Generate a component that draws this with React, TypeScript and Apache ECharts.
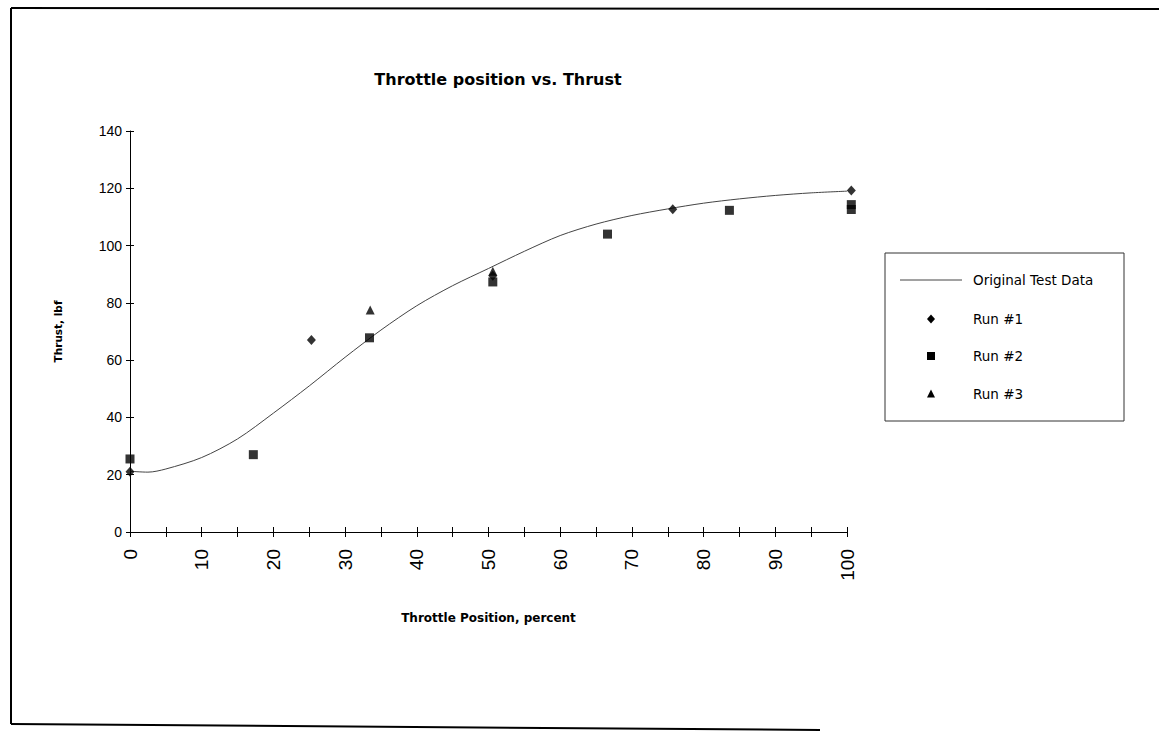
import React, { useEffect, useRef } from "react";
import * as echarts from "echarts";

const chartTitle = "Throttle position vs. Thrust";
const xName = "Throttle Position, percent";
const yName = "Thrust, lbf";

const curveX = [0, 2.5, 5, 10, 15, 20, 25, 30, 35, 40, 45, 50, 55, 60, 65, 70, 75, 80, 85, 90, 95, 100];
const curveY = [21.2, 20.9, 22, 26, 32.5, 41.5, 51, 61, 70.5, 79, 86, 92, 98, 103.5, 107.5, 110.5, 112.8, 114.8, 116.3, 117.5, 118.4, 119];

const run1X = [0, 25.3, 50.6, 75.7, 100.6];
const run1Y = [21, 67, 89.5, 112.7, 119.2];

const run2X = [0, 17.2, 33.4, 50.6, 66.6, 83.6, 100.6, 100.6];
const run2Y = [25.5, 27, 67.8, 87.3, 104, 112.3, 114.3, 112.6];

const run3X = [33.5, 50.6];
const run3Y = [77.5, 91];

const seriesNames = ["Original Test Data", "Run #1", "Run #2", "Run #3"];

const FONT = "'Liberation Sans', Arial, sans-serif";
const WIDE = "'DejaVu Sans', Verdana, sans-serif";

function pairs(xs: number[], ys: number[]) {
  return xs.map((x, i) => [x, ys[i]]);
}

export default function App() {
  const ref = useRef<HTMLDivElement>(null);
  useEffect(() => {
    if (!ref.current) return;
    const chart = echarts.init(ref.current, null, { renderer: "svg" });
    const grid = { left: 130, right: 312, top: 131, bottom: 199 };
    const legendTextStyle = { fill: "#000", font: `13.5px ${WIDE}`, verticalAlign: "middle" as const, align: "left" as const };
    const legendRows = [280, 319, 356, 394];
    const mx = 931;
    const option: any = {
      animation: false,
      backgroundColor: "#ffffff",
      title: {
        text: chartTitle,
        left: 493,
        top: 66,
        textAlign: "center",
        textStyle: { fontFamily: WIDE, fontSize: 16, fontWeight: "bold", color: "#000" },
      },
      grid,
      xAxis: [
        {
          type: "value",
          min: 0,
          max: 100,
          interval: 5,
          name: xName,
          nameLocation: "middle",
          nameGap: 80,
          nameTextStyle: { fontFamily: WIDE, fontSize: 12, fontWeight: "bold", color: "#000" },
          axisLine: { show: true, lineStyle: { color: "#000", width: 1 } },
          axisTick: { show: true, length: 5, lineStyle: { color: "#000" } },
          axisLabel: {
            rotate: 90,
            margin: 17,
            fontFamily: FONT,
            fontSize: 19,
            color: "#000",
            formatter: (v: number) => (v % 10 === 0 ? String(v) : ""),
          },
          splitLine: { show: false },
        },
        {
          type: "value",
          min: 0,
          max: 100,
          interval: 5,
          position: "bottom",
          axisLine: { show: false },
          axisTick: { show: true, inside: true, length: 5, lineStyle: { color: "#000" } },
          axisLabel: { show: false },
          splitLine: { show: false },
        },
      ],
      yAxis: [
        {
          type: "value",
          min: 0,
          max: 140,
          interval: 20,
          name: yName,
          nameLocation: "middle",
          nameGap: 67,
          nameTextStyle: { fontFamily: WIDE, fontSize: 10.5, fontWeight: "bold", color: "#000" },
          axisLine: { show: true, lineStyle: { color: "#000", width: 1 } },
          axisTick: { show: true, length: 4, lineStyle: { color: "#000" } },
          axisLabel: { margin: 8, fontFamily: FONT, fontSize: 14, color: "#000" },
          splitLine: { show: false },
        },
        {
          type: "value",
          min: 0,
          max: 140,
          interval: 20,
          position: "left",
          axisLine: { show: false },
          axisTick: { show: true, inside: true, length: 4, lineStyle: { color: "#000" } },
          axisLabel: { show: false },
          splitLine: { show: false },
        },
      ],
      series: [
        {
          name: seriesNames[0],
          type: "line",
          data: pairs(curveX, curveY),
          symbol: "none",
          smooth: 0.3,
          lineStyle: { color: "#444", width: 1 },
          itemStyle: { color: "#444" },
          z: 1,
        },
        {
          name: seriesNames[1],
          type: "scatter",
          data: pairs(run1X, run1Y),
          symbol: "diamond",
          symbolSize: [9, 10],
          clip: false,
          itemStyle: { color: "#000" },
          z: 3,
        },
        {
          name: seriesNames[2],
          type: "scatter",
          data: pairs(run2X, run2Y),
          symbol: "rect",
          symbolSize: 9,
          clip: false,
          itemStyle: { color: "#000" },
          z: 2,
        },
        {
          name: seriesNames[3],
          type: "scatter",
          data: pairs(run3X, run3Y),
          symbol: "triangle",
          symbolSize: [9, 9],
          clip: false,
          itemStyle: { color: "#000" },
          z: 3,
        },
      ],
      graphic: [
        {
          type: "rect",
          shape: { x: 885, y: 253, width: 239, height: 168 },
          style: { fill: "none", stroke: "#333", lineWidth: 1 },
        },
        { type: "line", shape: { x1: 900, y1: legendRows[0], x2: 962, y2: legendRows[0] }, style: { stroke: "#444", lineWidth: 1 } },
        {
          type: "polygon",
          shape: { points: [[mx, legendRows[1] - 4.5], [mx + 4, legendRows[1]], [mx, legendRows[1] + 4.5], [mx - 4, legendRows[1]]] },
          style: { fill: "#000" },
        },
        { type: "rect", shape: { x: mx - 4, y: legendRows[2] - 4, width: 8, height: 8 }, style: { fill: "#000" } },
        {
          type: "polygon",
          shape: { points: [[mx, legendRows[3] - 4.5], [mx + 4, legendRows[3] + 3.5], [mx - 4, legendRows[3] + 3.5]] },
          style: { fill: "#000" },
        },
        ...seriesNames.map((n, i) => ({
          type: "text",
          x: 973,
          y: legendRows[i],
          style: { ...legendTextStyle, text: n },
        })),
        { type: "line", shape: { x1: 11, y1: 8, x2: 1159, y2: 9 }, style: { stroke: "#000", lineWidth: 2 } },
        { type: "line", shape: { x1: 11, y1: 8, x2: 11, y2: 724 }, style: { stroke: "#000", lineWidth: 2 } },
        { type: "line", shape: { x1: 11, y1: 724, x2: 820, y2: 730 }, style: { stroke: "#000", lineWidth: 2 } },
      ],
    };
    chart.setOption(option);
    return () => chart.dispose();
  }, []);
  return (
    <div
      ref={ref}
      style={{ position: "fixed", left: 0, top: 0, width: 1159, height: 731, background: "#fff" }}
    />
  );
}
